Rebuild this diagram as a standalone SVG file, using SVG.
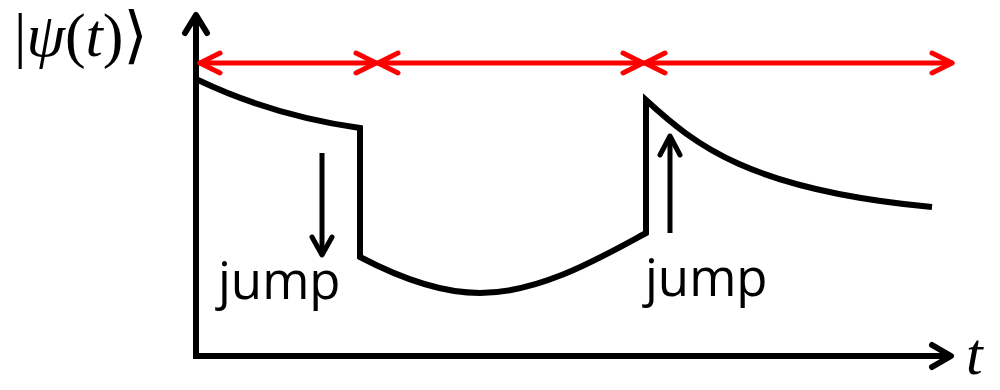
<svg xmlns="http://www.w3.org/2000/svg" width="1000" height="390" viewBox="0 0 1000 390">
<style>
.ax{fill:none;stroke:#000;stroke-width:6;stroke-linecap:square;stroke-linejoin:miter}
.ah{fill:none;stroke:#000;stroke-width:6;stroke-linecap:round;stroke-linejoin:round}
.cv{fill:none;stroke:#000;stroke-width:6;stroke-linejoin:miter}
.jp{fill:none;stroke:#000;stroke-width:5;stroke-linecap:butt}
.jh{fill:none;stroke:#000;stroke-width:5;stroke-linecap:round;stroke-linejoin:round}
.rd{fill:none;stroke:#ff0000;stroke-width:5;stroke-linecap:round;stroke-linejoin:round}
.lbl{font-family:"Open Sans","Noto Sans",sans-serif;font-size:51px;fill:#000}
.math{font-family:"Liberation Serif","DejaVu Serif",serif;fill:#000}
</style>
<g id="axes">
<line class="ax" x1="196" y1="356" x2="196" y2="18"/>
<polyline class="ah" points="185,33 196,15 207,33"/>
<line class="ax" x1="196" y1="356" x2="948" y2="356"/>
<polyline class="ah" points="932,345 951,356 932,367"/>
</g>
<g id="ylabel">
<text class="math" x="14" y="56" font-size="62">|<tspan font-style="italic">ψ</tspan>(<tspan font-style="italic">t</tspan>)<tspan font-family="DejaVu Sans">⟩</tspan></text>
</g>
<g id="xlabel">
<text class="math" x="966" y="374" font-size="60" font-style="italic">t</text>
</g>
<g id="intervals">
<line class="rd" x1="200" y1="63" x2="376" y2="63"/>
<polyline class="rd" points="220,53 200,63 220,73"/>
<polyline class="rd" points="356,53 376,63 356,73"/>
<line class="rd" x1="378" y1="63" x2="643" y2="63"/>
<polyline class="rd" points="398,53 378,63 398,73"/>
<polyline class="rd" points="623,53 643,63 623,73"/>
<line class="rd" x1="645" y1="63" x2="952" y2="63"/>
<polyline class="rd" points="665,53 645,63 665,73"/>
<polyline class="rd" points="932,53 952,63 932,73"/>
</g>
<g id="state">
<path class="cv" d="M198,80 C240,100 290,118 360,128 L360,257 C400,278 440,293 480,293 C540,293 600,258 646,233 L646,100 C695,145 750,190 932,207"/>
</g>
<g id="jump1">
<line class="jp" x1="322" y1="153" x2="322" y2="254"/>
<polyline class="jh" points="312,237 322,255 332,237"/>
<text class="lbl" x="218" y="299">jump</text>
</g>
<g id="jump2">
<line class="jp" x1="670" y1="233" x2="670" y2="138"/>
<polyline class="jh" points="660,155 670,136 680,155"/>
<text class="lbl" x="645" y="296">jump</text>
</g>
</svg>
